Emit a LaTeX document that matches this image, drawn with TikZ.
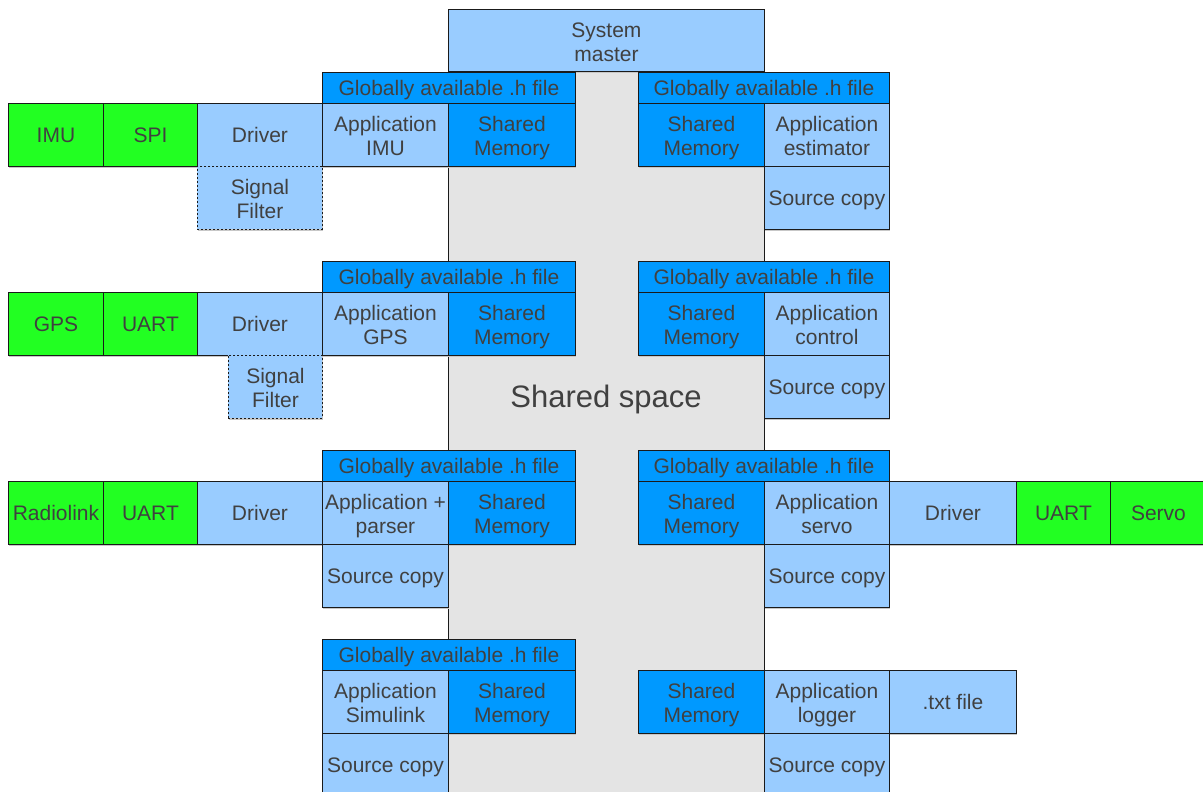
\documentclass[tikz,border=0pt]{standalone}
\usepackage{fontspec}
\setmainfont{Liberation Sans}
\usetikzlibrary{shadows}
\definecolor{pale}{HTML}{99CCFF}
\definecolor{deep}{HTML}{0099FF}
\definecolor{hw}{HTML}{22FF22}
\definecolor{space}{HTML}{E4E4E4}
\definecolor{ink}{HTML}{404040}
\definecolor{edge}{HTML}{1A1A1A}
% invisible rule that centres a line of text on its capitals
\newcommand\capstrut{\rule[-4.5pt]{0pt}{24pt}}
% two stacked lines, balanced around the middle of the box
\newcommand\two[2]{\rule{0pt}{22.5pt}#1\\#2}
\tikzset{
  box/.style={draw=edge, line width=0.9pt, inner sep=0pt, align=center,
    text=ink, font=\fontsize{21}{24}\selectfont,
    execute at begin node=\capstrut, execute at end node=\capstrut,
    drop shadow={shadow xshift=0.6pt, shadow yshift=-1.6pt, fill=black!22, opacity=1}},
  soft/.style={box, fill=pale},
  core/.style={box, fill=deep},
  part/.style={box, fill=hw},
  opt/.style={box, fill=pale, dashed, dash pattern=on 2pt off 2pt, drop shadow={opacity=0}},
}
% \cell{name}{style}{x1}{y1}{x2}{y2}{text}, coordinates in pixels from the top left
\newcommand\cell[7]{%
  \pgfmathsetmacro\cw{#5-#3}\pgfmathsetmacro\ch{#6-#4}%
  \node[#2, anchor=north west, minimum width=\cw pt, minimum height=\ch pt] (#1) at (#3,#4) {#7};}
\begin{document}
\begin{tikzpicture}[x=1pt, y=-1pt]
\useasboundingbox (0,0) rectangle (1203,792);
\clip (0,0) rectangle (1203,792);
\fill[white] (0,0) rectangle (1203,792);

% common area reached by every application
\node[draw=edge, line width=0.9pt, fill=space, anchor=north west, minimum width=316pt,
      minimum height=780pt, inner sep=0pt] (area) at (448,40) {};
\node[text=ink, font=\fontsize{31}{36}\selectfont] (arealabel) at (606,399) {Shared space};
\cell{master}{soft}{448}{9}{764}{71}{\two{System}{master}}

% ---- row 1: IMU / estimator
\cell{h1l}{core}{322}{72}{575}{103}{Globally available .h file}
\cell{h1r}{core}{638}{72}{889}{103}{Globally available .h file}
\cell{imu}{part}{8}{103}{103}{166}{IMU}
\cell{spi}{part}{103}{103}{197}{166}{SPI}
\cell{drv1}{soft}{197}{103}{322}{166}{Driver}
\cell{app1}{soft}{322}{103}{448}{166}{\two{Application}{IMU}}
\cell{mem1l}{core}{448}{103}{575}{166}{\two{Shared}{Memory}}
\cell{mem1r}{core}{638}{103}{764}{166}{\two{Shared}{Memory}}
\cell{est}{soft}{764}{103}{889}{166}{\two{Application}{estimator}}
\cell{flt1}{opt}{197}{166}{322}{229}{\two{Signal}{Filter}}
\cell{src1}{soft}{764}{166}{889}{229}{Source copy}

% ---- row 2: GPS / control
\cell{h2l}{core}{322}{261}{575}{292}{Globally available .h file}
\cell{h2r}{core}{638}{261}{889}{292}{Globally available .h file}
\cell{gps}{part}{8}{292}{103}{355}{GPS}
\cell{uart2}{part}{103}{292}{197}{355}{UART}
\cell{drv2}{soft}{197}{292}{322}{355}{Driver}
\cell{app2}{soft}{322}{292}{448}{355}{\two{Application}{GPS}}
\cell{mem2l}{core}{448}{292}{575}{355}{\two{Shared}{Memory}}
\cell{mem2r}{core}{638}{292}{764}{355}{\two{Shared}{Memory}}
\cell{ctl}{soft}{764}{292}{889}{355}{\two{Application}{control}}
\cell{flt2}{opt}{228}{355}{322}{418}{\two{Signal}{Filter}}
\cell{src2}{soft}{764}{355}{889}{418}{Source copy}

% ---- row 3: radio link / servo
\cell{h3l}{core}{322}{450}{575}{481}{Globally available .h file}
\cell{h3r}{core}{638}{450}{889}{481}{Globally available .h file}
\cell{radio}{part}{8}{481}{103}{544}{Radiolink}
\cell{uart3}{part}{103}{481}{197}{544}{UART}
\cell{drv3}{soft}{197}{481}{322}{544}{Driver}
\cell{app3}{soft}{322}{481}{448}{544}{\two{Application +}{parser}}
\cell{mem3l}{core}{448}{481}{575}{544}{\two{Shared}{Memory}}
\cell{mem3r}{core}{638}{481}{764}{544}{\two{Shared}{Memory}}
\cell{srv}{soft}{764}{481}{889}{544}{\two{Application}{servo}}
\cell{drv3r}{soft}{889}{481}{1016}{544}{Driver}
\cell{uart3r}{part}{1016}{481}{1110}{544}{UART}
\cell{servo}{part}{1110}{481}{1206}{544}{Servo}
\cell{src3l}{soft}{322}{544}{448}{607}{Source copy}
\cell{src3r}{soft}{764}{544}{889}{607}{Source copy}

% ---- row 4: Simulink / logger
\cell{h4l}{core}{322}{639}{575}{670}{Globally available .h file}
\cell{sim}{soft}{322}{670}{448}{733}{\two{Application}{Simulink}}
\cell{mem4l}{core}{448}{670}{575}{733}{\two{Shared}{Memory}}
\cell{mem4r}{core}{638}{670}{764}{733}{\two{Shared}{Memory}}
\cell{log}{soft}{764}{670}{889}{733}{\two{Application}{logger}}
\cell{txt}{soft}{889}{670}{1016}{733}{.txt file}
\cell{src4l}{soft}{322}{733}{448}{796}{Source copy}
\cell{src4r}{soft}{764}{733}{889}{796}{Source copy}
\end{tikzpicture}
\end{document}
